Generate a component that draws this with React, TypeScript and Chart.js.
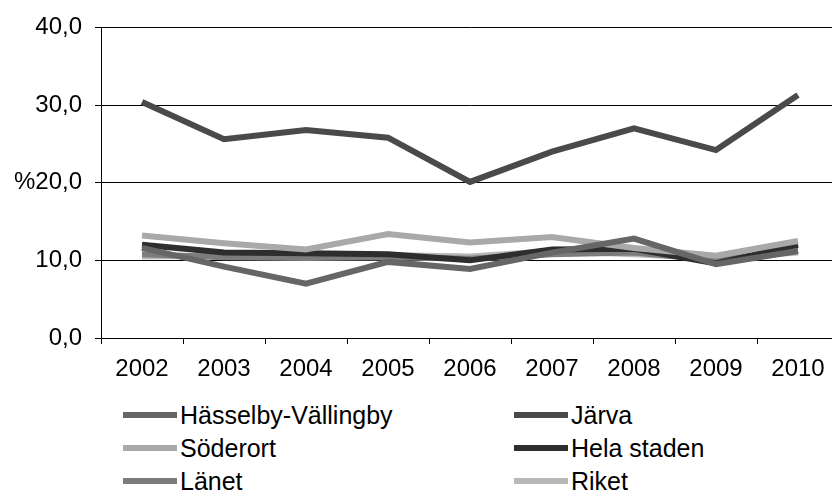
import React, { useEffect, useRef } from 'react';
import { Chart, registerables } from 'chart.js';

Chart.register(...registerables);

const years = ['2002', '2003', '2004', '2005', '2006', '2007', '2008', '2009', '2010'];

const hasselbyVallingby = [11.6, 9.2, 7.0, 9.8, 8.9, 11.0, 12.8, 9.5, 11.2];
const jarva = [30.4, 25.6, 26.8, 25.8, 20.1, 24.0, 27.0, 24.2, 31.3];
const soderort = [13.2, 12.2, 11.4, 13.4, 12.3, 13.0, 11.6, 10.6, 12.5];
const helaStaden = [12.0, 11.0, 10.9, 10.8, 10.0, 11.4, 11.5, 9.6, 12.0];
const lanet = [10.8, 10.4, 10.3, 10.4, 10.2, 10.8, 11.0, 10.0, 11.2];
const riket = [10.5, 10.6, 10.5, 10.7, 10.5, 11.2, 10.8, 10.3, 11.0];

const seriesNames = ['Hässelby-Vällingby', 'Järva', 'Söderort', 'Hela staden', 'Länet', 'Riket'];
const seriesValues = [hasselbyVallingby, jarva, soderort, helaStaden, lanet, riket];
const seriesColors = ['#666666', '#4a4a4a', '#a9a9a9', '#2e2e2e', '#7c7c7c', '#b8b8b8'];

const yTickLabels = ['0,0', '10,0', '%20,0', '30,0', '40,0'];

const FONT = '"Liberation Sans", Arial, sans-serif';

export default function App() {
  const ref = useRef<HTMLCanvasElement>(null);

  useEffect(() => {
    const chart = new Chart(ref.current!, {
      type: 'line',
      data: {
        labels: years,
        datasets: seriesNames.map((name, i) => ({
          label: name,
          data: seriesValues[i],
          borderColor: seriesColors[i],
          backgroundColor: seriesColors[i],
          borderWidth: 6,
          pointRadius: 0,
          tension: 0,
          fill: false,
        })),
      },
      options: {
        responsive: false,
        maintainAspectRatio: false,
        animation: false,
        layout: { padding: { left: 0, right: 11, top: 27, bottom: 0 } },
        plugins: { legend: { display: false }, tooltip: { enabled: false } },
        scales: {
          x: {
            offset: true,
            grid: { offset: true, drawOnChartArea: false, drawTicks: true, tickLength: 6, color: '#000' },
            border: { color: '#000', width: 1 },
            ticks: { font: { family: FONT, size: 24 }, color: '#000', padding: 11, maxRotation: 0, autoSkip: false },
            afterFit: (s: any) => { s.height = 52; },
          },
          y: {
            min: 0,
            max: 40,
            ticks: {
              stepSize: 10,
              font: { family: FONT, size: 24 },
              color: '#000',
              padding: 13,
              callback: (v: any) => yTickLabels[Math.round(Number(v) / 10)],
            },
            grid: { color: '#000', tickLength: 6 },
            border: { color: '#000', width: 1 },
            afterFit: (s: any) => { s.width = 101; },
          },
        },
      },
    });
    return () => chart.destroy();
  }, []);

  const legendPos = [
    { x: 123, y: 415 }, { x: 514, y: 415 },
    { x: 123, y: 448 }, { x: 514, y: 448 },
    { x: 123, y: 481 }, { x: 514, y: 481 },
  ];

  return (
    <div style={{ position: 'absolute', left: 0, top: 0, width: 832, height: 499, overflow: 'hidden', background: '#fff' }}>
      <canvas ref={ref} width={850} height={390} style={{ position: 'absolute', left: 0, top: 0, width: 850, height: 390 }} />
      {seriesNames.map((name, i) => (
        <div
          key={name}
          style={{
            position: 'absolute',
            left: legendPos[i].x,
            top: legendPos[i].y - 15,
            height: 30,
            display: 'flex',
            alignItems: 'center',
            fontFamily: FONT,
            fontSize: 25,
            color: '#000',
            whiteSpace: 'nowrap',
          }}
        >
          <span style={{ display: 'inline-block', width: 54, height: 6, background: seriesColors[i], marginRight: 3 }} />
          <span>{name}</span>
        </div>
      ))}
    </div>
  );
}
